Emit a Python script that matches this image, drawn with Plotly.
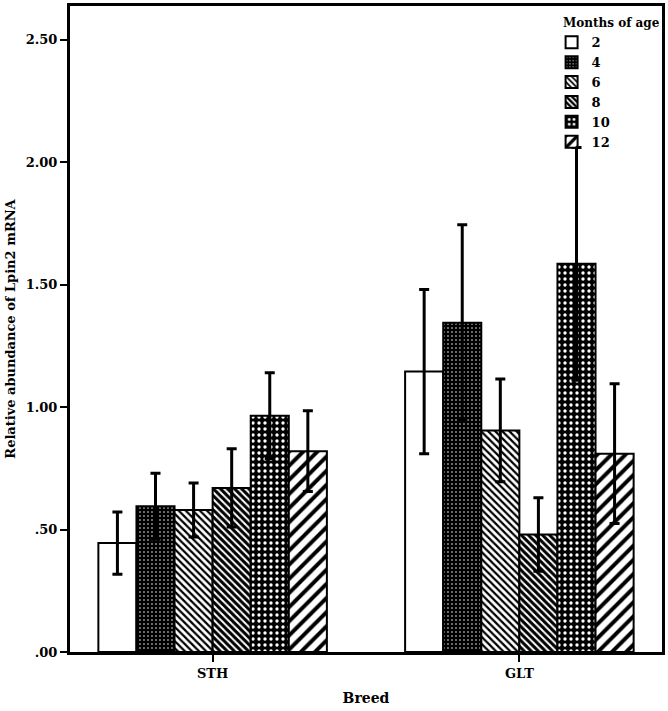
import plotly.graph_objects as go

breeds = ["STH", "GLT"]
months = ["2", "4", "6", "8", "10", "12"]
means = {
    "2": [0.445, 1.145],
    "4": [0.595, 1.345],
    "6": [0.58, 0.905],
    "8": [0.67, 0.48],
    "10": [0.965, 1.585],
    "12": [0.82, 0.81],
}
errs = {
    "2": [0.127, 0.335],
    "4": [0.135, 0.40],
    "6": [0.11, 0.21],
    "8": [0.16, 0.15],
    "10": [0.175, 0.475],
    "12": [0.165, 0.285],
}
y_tickvals = [0, 0.5, 1.0, 1.5, 2.0, 2.5]
y_ticktext = [".00", ".50", "1.00", "1.50", "2.00", "2.50"]

styles = {
    "2": dict(color="white", pattern=dict(shape="")),
    "4": dict(color="black", pattern=dict(shape=".", fgcolor="white", fgopacity=1, size=4, solidity=0.12, fillmode="overlay")),
    "6": dict(color="white", pattern=dict(shape="\\", fgcolor="black", fgopacity=1, size=5, solidity=0.45, fillmode="overlay")),
    "8": dict(color="white", pattern=dict(shape="\\", fgcolor="black", fgopacity=1, size=5, solidity=0.6, fillmode="overlay")),
    "10": dict(color="black", pattern=dict(shape=".", fgcolor="white", fgopacity=1, size=6, solidity=0.25, fillmode="overlay")),
    "12": dict(color="white", pattern=dict(shape="/", fgcolor="black", fgopacity=1, size=10, solidity=0.4, fillmode="overlay")),
}

FONT = "DejaVu Serif"
fig = go.Figure()
for m in months:
    st = styles[m]
    fig.add_trace(go.Bar(
        x=breeds, y=means[m], name=m,
        marker=dict(color=st["color"], pattern=st["pattern"],
                    line=dict(color="black", width=2)),
        error_y=dict(type="data", array=errs[m], color="black", thickness=3, width=5),
    ))

fig.update_layout(
    width=668, height=711,
    margin=dict(l=70, r=4, t=3, b=59),
    paper_bgcolor="white", plot_bgcolor="white",
    barmode="group", bargap=0.255, bargroupgap=0,
    font=dict(family=FONT, color="black", size=13),
    showlegend=True,
    legend=dict(x=0.8135, y=0.967, xanchor="left", yanchor="top",
                font=dict(family=FONT, size=13, color="black", weight="bold"),
                bgcolor="rgba(0,0,0,0)", itemwidth=30, tracegroupgap=0),
    annotations=[dict(text="<b>Months of age</b>", xref="paper", yref="paper",
                      x=1.0, y=0.974, xanchor="right", yanchor="middle",
                      showarrow=False, font=dict(family=FONT, size=12))],
)
fig.update_xaxes(
    range=[-0.465, 1.465], showline=True, linecolor="black", linewidth=3, mirror=True,
    ticks="outside", ticklen=7, tickwidth=2, tickcolor="black",
    tickfont=dict(family=FONT, size=13, weight="bold"),
    title=dict(text="<b>Breed</b>", font=dict(family=FONT, size=14), standoff=14),
    showgrid=False,
)
fig.update_yaxes(
    range=[0, 2.638], tickvals=y_tickvals, ticktext=y_ticktext,
    showline=True, linecolor="black", linewidth=3, mirror=True,
    ticks="outside", ticklen=7, tickwidth=2, tickcolor="black",
    tickfont=dict(family=FONT, size=13, weight="bold"),
    title=dict(text="<b>Relative abundance of Lpin2 mRNA</b>", font=dict(family=FONT, size=13), standoff=8),
    showgrid=False, zeroline=False,
)
fig.write_html("out.html", config={"displayModeBar": False},
               post_script="document.body.style.margin='0';")
